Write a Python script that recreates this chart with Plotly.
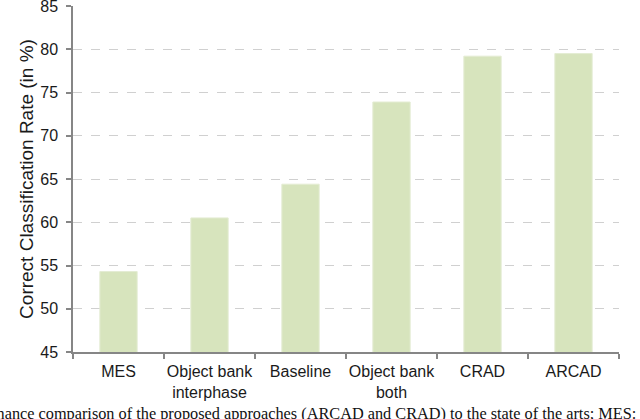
import plotly.graph_objects as go

# Daten
categories = ["MES", "Object bank<br>interphase", "Baseline", "Object bank<br>both", "CRAD", "ARCAD"]
rates = [54.3, 60.5, 64.4, 73.9, 79.2, 79.5]
y_ticks = [45, 50, 55, 60, 65, 70, 75, 80, 85]

bar_color = '#d7e4bd'
axis_color = '#868686'
font_sans = 'Liberation Sans, Arial, sans-serif'

fig = go.Figure()

fig.add_trace(go.Bar(
    x=categories,
    y=rates,
    marker=dict(color=bar_color, line=dict(color='#e4ecd3', width=1)),
    width=0.41,
    showlegend=False,
))

fig.update_layout(
    width=640,
    height=419,
    margin=dict(l=73, r=21, t=6, b=67),
    paper_bgcolor='white',
    plot_bgcolor='white',
    font=dict(family=font_sans, size=16, color='#1a1a1a'),
    xaxis=dict(
        type='category',
        showline=True,
        linecolor=axis_color,
        linewidth=1.5,
        ticks='outside',
        tickson='boundaries',
        ticklen=5,
        tickcolor=axis_color,
        tickwidth=1.5,
        tickangle=0,
        ticklabelstandoff=4,
        showgrid=False,
        automargin=False,
    ),
    yaxis=dict(
        range=[45, 85],
        tickvals=y_ticks,
        showline=True,
        linecolor=axis_color,
        linewidth=1.5,
        ticks='outside',
        ticklen=5,
        tickcolor=axis_color,
        tickwidth=1.5,
        ticklabelstandoff=5,
        ticklabeloverflow='allow',
        showgrid=True,
        gridcolor='#d0d0d0',
        griddash='dash',
        gridwidth=1,
        zeroline=False,
        automargin=False,
        title=dict(text='Correct Classification Rate (in %)', standoff=2),
    ),
)

# Bildunterschrift (abgeschnitten wie im Original)
fig.add_annotation(
    text="mance comparison of the proposed approaches (ARCAD and CRAD) to the state of the arts; MES:",
    font=dict(family='Liberation Serif, Times New Roman, serif', size=16.3, color='#111111'),
    xref='paper', yref='paper',
    x=1.035, y=-0.178,
    xanchor='right', yanchor='middle',
    showarrow=False,
)

# Seitenrand entfernen, damit die Grafik bei (0,0) beginnt
fig.write_html("out.html", config={'displayModeBar': False},
               post_script="document.body.style.margin='0';")
